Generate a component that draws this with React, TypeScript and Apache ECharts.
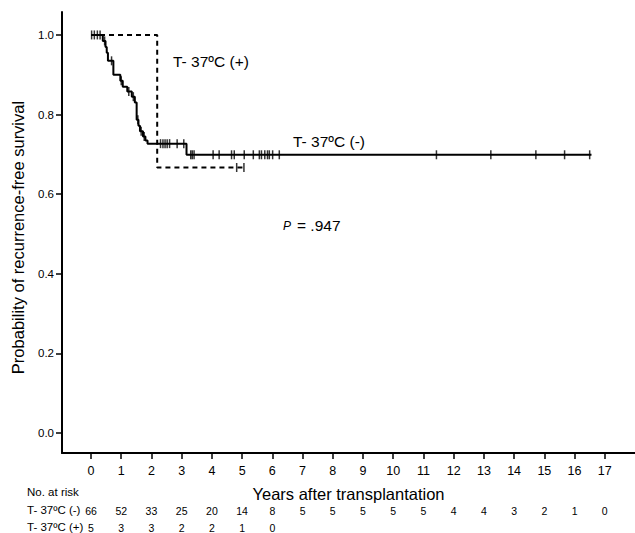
import React, { useEffect, useRef } from "react";
import * as echarts from "echarts";

// Kaplan-Meier step data, T- 37ºC (-)
const negTimes = [0, 0.39, 0.48, 0.52, 0.56, 0.74, 0.97, 1.05, 1.2, 1.35, 1.45, 1.51, 1.57, 1.62, 1.72, 1.8, 1.87, 3.16, 16.56];
const negSurv = [1, 0.985, 0.97, 0.955, 0.935, 0.9, 0.885, 0.87, 0.858, 0.845, 0.83, 0.787, 0.772, 0.758, 0.745, 0.735, 0.727, 0.699, 0.699];
const negCensor = [0.02, 0.11, 0.21, 0.3, 0.45, 0.68, 1.0, 1.25, 1.4, 1.55, 1.66, 1.76, 2.3, 2.38, 2.45, 2.52, 2.6, 2.85, 3.07, 3.3, 3.35, 3.41, 4.04, 4.24, 4.65, 4.74, 5.07, 5.37, 5.57, 5.64, 5.75, 5.84, 5.9, 6.01, 6.23, 11.43, 13.23, 14.72, 15.67, 16.5];

// T- 37ºC (+)
const posTimes = [0, 2.19, 5.12];
const posSurv = [1, 0.667, 0.667];
const posCensor = [4.82, 5.06];

// tick labels and numbers at risk
const yTicks = [0, 0.2, 0.4, 0.6, 0.8, 1.0];
const xTicks = [0, 1, 2, 3, 4, 5, 6, 7, 8, 9, 10, 11, 12, 13, 14, 15, 16, 17];
const negRisk = [66, 52, 33, 25, 20, 14, 8, 5, 5, 5, 5, 5, 4, 4, 3, 2, 1, 0];
const posRisk = [5, 3, 3, 2, 2, 1, 0];

const FONT = "'Liberation Sans', Arial, sans-serif";

function survAt(times: number[], surv: number[], t: number) {
  let s = surv[0];
  for (let i = 0; i < times.length; i++) if (times[i] <= t) s = surv[i];
  return s;
}

export default function App() {
  const ref = useRef<HTMLDivElement>(null);
  useEffect(() => {
    if (!ref.current) return;
    const chart = echarts.init(ref.current, null, { renderer: "svg" });
    const xMin = -0.96;
    const xMax = 18;
    const hiddenAxis = (offset: number, values: number[], risk: number[]) => ({
      type: "value",
      min: xMin,
      max: xMax,
      position: "bottom",
      offset,
      axisLine: { show: false, onZero: false },
      axisTick: { show: false },
      splitLine: { show: false },
      axisLabel: {
        customValues: values,
        margin: 0,
        fontSize: 10.5,
        lineHeight: 11,
        color: "#000",
        fontFamily: FONT,
        formatter: (v: number) => String(risk[Math.round(v)]),
      },
    });
    chart.setOption({
      animation: false,
      backgroundColor: "#fff",
      grid: { left: 62, top: 12, right: 0, bottom: 79, containLabel: false },
      xAxis: [
        {
          type: "value",
          min: xMin,
          max: xMax,
          name: "Years after transplantation",
          nameLocation: "middle",
          nameGap: 32,
          nameTextStyle: { fontSize: 16.5, color: "#000", fontFamily: FONT },
          axisLine: { show: true, onZero: false, lineStyle: { color: "#000", width: 2 } },
          axisTick: { show: true, customValues: xTicks, length: 6, lineStyle: { color: "#000", width: 1.5 } },
          axisLabel: { customValues: xTicks, fontSize: 12.5, color: "#000", margin: 11, fontFamily: FONT },
          splitLine: { show: false },
        },
        hiddenAxis(52, xTicks, negRisk),
        hiddenAxis(69, posRisk.map((_, i) => i), posRisk),
      ],
      yAxis: {
        type: "value",
        min: -0.05,
        max: 1.0576,
        name: "Probability of recurrence-free survival",
        nameLocation: "middle",
        nameGap: 36,
        nameTextStyle: { fontSize: 16.5, color: "#000", fontFamily: FONT, padding: [0, 0, 0, -10] },
        axisLine: { show: true, onZero: false, lineStyle: { color: "#000", width: 2 } },
        axisTick: { show: true, customValues: yTicks, length: 6, lineStyle: { color: "#000", width: 1.5 } },
        axisLabel: {
          customValues: yTicks,
          fontSize: 11.5,
          color: "#000",
          margin: 8,
          fontFamily: FONT,
          formatter: (v: number) => v.toFixed(1),
        },
        splitLine: { show: false },
      },
      series: [
        {
          type: "line",
          step: "end",
          showSymbol: false,
          data: negTimes.map((t, i) => [t, negSurv[i]]),
          lineStyle: { color: "#000", width: 2 },
          z: 3,
        },
        {
          type: "line",
          step: "end",
          showSymbol: false,
          data: posTimes.map((t, i) => [t, posSurv[i]]),
          lineStyle: { color: "#000", width: 2, type: [5, 4] },
          z: 2,
        },
        {
          type: "scatter",
          symbol: "rect",
          symbolSize: [1.5, 9],
          itemStyle: { color: "#000" },
          data: negCensor.map((t) => [t, survAt(negTimes, negSurv, t)]),
          z: 4,
        },
        {
          type: "scatter",
          symbol: "rect",
          symbolSize: [1.5, 9],
          itemStyle: { color: "#000" },
          data: posCensor.map((t) => [t, survAt(posTimes, posSurv, t)]),
          z: 4,
        },
      ],
      graphic: [
        { type: "text", left: 173, top: 53, style: { text: "T- 37ºC (+)", fontSize: 15.5, fill: "#000", fontFamily: FONT } },
        { type: "text", left: 293, top: 133, style: { text: "T- 37ºC (-)", fontSize: 15.5, fill: "#000", fontFamily: FONT } },
        { type: "text", left: 283, top: 220, style: { text: "P", fontSize: 12, fontStyle: "italic", fill: "#000", fontFamily: FONT } },
        { type: "text", left: 297, top: 217, style: { text: "= .947", fontSize: 15.5, fill: "#000", fontFamily: FONT } },
        { type: "text", left: 27, top: 486, style: { text: "No. at risk", fontSize: 11.5, fill: "#000", fontFamily: FONT } },
        { type: "text", left: 27, top: 504, style: { text: "T- 37ºC (-)", fontSize: 11.5, lineHeight: 12, fill: "#000", fontFamily: FONT } },
        { type: "text", left: 27, top: 521, style: { text: "T- 37ºC (+)", fontSize: 11.5, lineHeight: 12, fill: "#000", fontFamily: FONT } },
      ],
    });
    return () => chart.dispose();
  }, []);
  return <div ref={ref} style={{ position: "fixed", left: 0, top: 0, width: 635, height: 533 }} />;
}
